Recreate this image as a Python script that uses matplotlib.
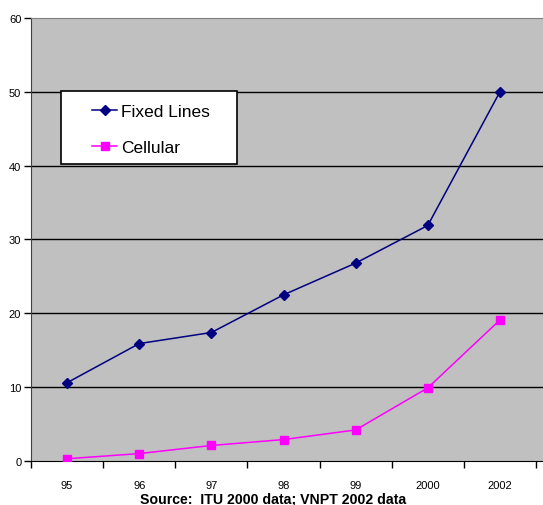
import numpy as np
import matplotlib.pyplot as plt
from matplotlib.ticker import FixedLocator
from matplotlib.patches import Rectangle

plt.rcParams["font.family"] = ["Liberation Sans", "DejaVu Sans"]

# ── data ──────────────────────────────────────────────────────────────────────
years    = ["95", "96", "97", "98", "99", "2000", "2002"]
fixed    = [10.6, 15.9, 17.4, 22.5, 26.8, 31.9, 50.0]
cellular = [0.3, 1.0, 2.1, 2.9, 4.2, 9.9, 19.1]

# ── figure ────────────────────────────────────────────────────────────────────
fig = plt.figure(figsize=(5.43, 5.06), dpi=100)
ax = fig.add_axes([0.0571, 0.0870, 0.9429, 0.8755])
ax.set_facecolor("#C0C0C0")

x = np.arange(len(years))
ax.plot(x, fixed, color="#000080", lw=1.1, marker="D", ms=5,
        label="Fixed Lines", zorder=4)
ax.plot(x, cellular, color="#FF00FF", lw=1.1, marker="s", ms=6,
        label="Cellular", zorder=4)

ax.set_ylim(0, 60)
ax.set_xlim(-0.5, 6.597)
ax.set_yticks(range(0, 61, 10))
for g in range(10, 60, 10):
    ax.axhline(g, color="black", lw=1, zorder=1)

ax.set_xticks(x)
ax.set_xticklabels(years, fontsize=8)
ax.tick_params(axis="x", which="major", length=0, pad=13.5)
ax.xaxis.set_minor_locator(FixedLocator(np.arange(-0.5, 7, 1.0)))
ax.tick_params(axis="x", which="minor", length=5, width=1, color="black")
ax.tick_params(axis="y", labelsize=8, length=5, width=1, pad=2)

ax.spines["top"].set_color("#808080")
ax.spines["right"].set_visible(False)
ax.spines["left"].set_color("#404040")
ax.spines["bottom"].set_color("black")

# legend box drawn separately so the entries can sit inset like the original
box = Rectangle((0.0586, 0.670), 0.3437, 0.165, transform=ax.transAxes,
                facecolor="white", edgecolor="black", lw=1.2, zorder=5)
ax.add_patch(box)
leg = ax.legend(loc="upper left", bbox_to_anchor=(0.119, 0.807),
                borderaxespad=0, borderpad=0, frameon=False,
                fontsize=12.5, handlelength=1.45, handletextpad=0.25,
                labelspacing=1.24)
leg.set_zorder(6)

fig.text(0.503, -0.001, "Source:  ITU 2000 data; VNPT 2002 data",
         ha="center", va="bottom", fontsize=10.2, fontweight="bold")

fig.savefig("out.png", dpi=100)
